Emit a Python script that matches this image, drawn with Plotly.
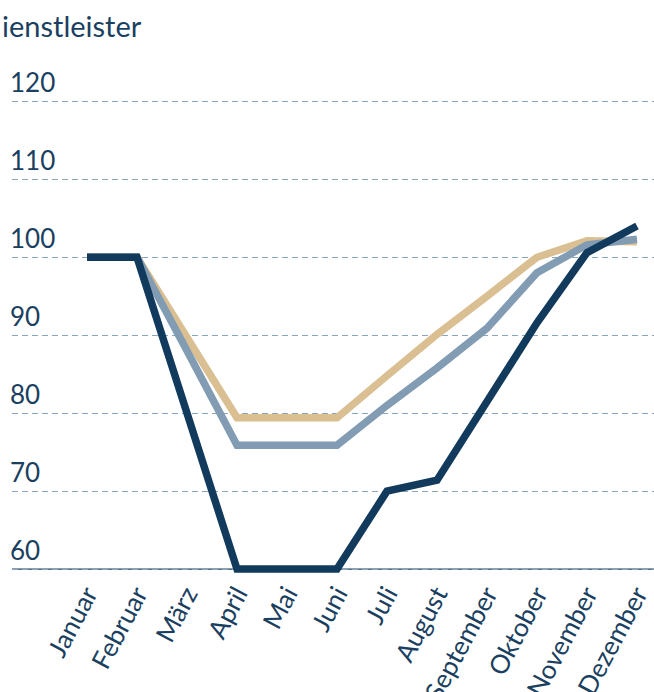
import plotly.graph_objects as go

months = ["Januar", "Februar", "März", "April", "Mai", "Juni", "Juli",
          "August", "September", "Oktober", "November", "Dezember"]
series_dark = [100, 100, 80, 60, 60, 60, 70, 71.4, 81.5, 91.6, 100.6, 104.0]
series_grey = [100, 100, 88, 75.9, 75.9, 75.9, 81, 85.8, 90.9, 98, 101.6, 102.3]
series_tan = [100, 100, 89.7, 79.4, 79.4, 79.4, 84.8, 90.1, 95, 100, 102.1, 102]
y_ticks = [60, 70, 80, 90, 100, 110, 120]
title_text = "ienstleister"

TEXT = "#1b3f60"
FONT = "Lato"

W, H = 654, 692
ML, MR, MT, MB = 12, 0, 60, 119

fig = go.Figure()
x_idx = list(range(len(months)))
for vals, col in [(series_tan, "#d9bf91"), (series_grey, "#819cb3"), (series_dark, "#123a5c")]:
    fig.add_trace(go.Scatter(x=x_idx, y=vals, mode="lines",
                             line=dict(color=col, width=7.5), showlegend=False,
                             hoverinfo="skip"))

fig.add_shape(type="line", xref="paper", yref="y", x0=0, x1=1, y0=60, y1=60,
              line=dict(color="#1b3f60", width=1.2), layer="below")

plot_w = W - ML - MR
plot_h = H - MT - MB
fig.add_annotation(text=title_text, xref="paper", yref="paper",
                   x=-ML / plot_w, y=(H - 25 - MB) / plot_h,
                   xanchor="left", yanchor="middle", showarrow=False,
                   font=dict(size=29, color=TEXT, family=FONT))

fig.update_layout(
    width=W, height=H,
    margin=dict(l=ML, r=MR, t=MT, b=MB, autoexpand=False),
    paper_bgcolor="white", plot_bgcolor="white",
    font=dict(family=FONT, color=TEXT, size=26),
    xaxis=dict(range=[-1.5, 11.34], tickmode="array", tickvals=x_idx,
               ticktext=months, tickangle=-62, showgrid=False, zeroline=False,
               showline=False, ticks="", automargin=False,
               ticklabeloverflow="allow",
               tickfont=dict(size=26, color=TEXT)),
    yaxis=dict(range=[59.5, 125.3], tickmode="array", tickvals=y_ticks,
               ticktext=[str(v) for v in y_ticks], showgrid=True,
               gridcolor="#8aa5bf", griddash="6px,4px", gridwidth=1.2,
               zeroline=False, showline=False, ticks="", automargin=False,
               ticklabelposition="inside top", ticklabelstandoff=-5,
               tickfont=dict(size=26, color=TEXT)),
)

fig.write_html("out.html", config={"displayModeBar": False},
               post_script="document.body.style.margin='0';document.body.style.padding='0';")
